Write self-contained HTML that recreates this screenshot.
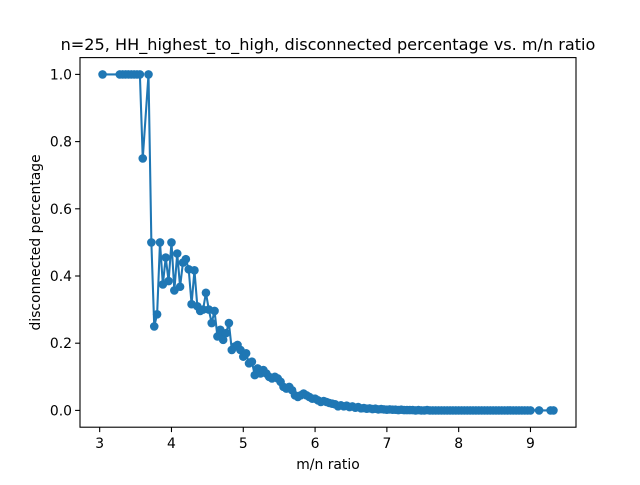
<!DOCTYPE html>
<html><head><meta charset="utf-8"><style>
body{margin:0;background:#fff;}
svg text{font-family:"DejaVu Sans","Liberation Sans",sans-serif;fill:#000;}
</style></head><body>
<svg id="chart" width="640" height="480" xmlns="http://www.w3.org/2000/svg">
<rect width="640" height="480" fill="#fff"/>
<g id="plot"></g>
</svg>
<script>
const xValues=[3.04,3.28,3.32,3.36,3.40,3.44,3.48,3.52,3.56,3.60,3.68,3.72,3.76,3.80,3.84,3.88,3.92,3.96,4.00,4.04,4.08,4.12,4.16,4.20,4.24,4.28,4.32,4.36,4.40,4.44,4.48,4.52,4.56,4.60,4.64,4.68,4.72,4.76,4.80,4.84,4.88,4.92,4.96,5.00,5.04,5.08,5.12,5.16,5.20,5.24,5.28,5.32,5.36,5.40,5.44,5.48,5.52,5.56,5.60,5.64,5.68,5.72,5.76,5.80,5.84,5.88,5.92,5.96,6.00,6.04,6.08,6.12,6.16,6.20,6.24,6.28,6.32,6.36,6.40,6.44,6.48,6.52,6.56,6.60,6.64,6.68,6.72,6.76,6.80,6.84,6.88,6.92,6.96,7.00,7.04,7.08,7.12,7.16,7.20,7.24,7.28,7.32,7.36,7.40,7.44,7.48,7.52,7.56,7.60,7.64,7.68,7.72,7.76,7.80,7.84,7.88,7.92,7.96,8.00,8.04,8.08,8.12,8.16,8.20,8.24,8.28,8.32,8.36,8.40,8.44,8.48,8.52,8.56,8.60,8.64,8.68,8.72,8.76,8.80,8.84,8.88,8.92,8.96,9.00,9.12,9.28,9.32];
const yValues=[1,1,1,1,1,1,1,1,1,0.75,1,0.5,0.25,0.286,0.5,0.375,0.455,0.385,0.5,0.357,0.467,0.368,0.44,0.45,0.42,0.316,0.417,0.31,0.296,0.30,0.35,0.30,0.26,0.296,0.22,0.24,0.21,0.23,0.26,0.18,0.19,0.195,0.18,0.16,0.17,0.14,0.145,0.105,0.125,0.11,0.12,0.11,0.10,0.095,0.10,0.095,0.085,0.07,0.065,0.07,0.06,0.045,0.04,0.045,0.05,0.045,0.04,0.035,0.035,0.03,0.025,0.028,0.025,0.022,0.02,0.018,0.012,0.015,0.012,0.014,0.01,0.012,0.008,0.01,0.006,0.007,0.005,0.006,0.004,0.005,0.003,0.004,0.003,0.002,0.003,0.002,0.002,0.001,0.002,0.001,0.001,0.001,0.001,0,0.001,0,0,0.001,0,0,0,0,0,0,0,0,0,0,0,0,0,0,0,0,0,0,0,0,0,0,0,0,0,0,0,0,0,0,0,0,0,0,0,0,0,0,0,0];
const xTicks=[3,4,5,6,7,8,9];
const yTicks=[0.0,0.2,0.4,0.6,0.8,1.0];
const yTickLabels=["0.0","0.2","0.4","0.6","0.8","1.0"];

const L=80,T=57.6,W=496,H=369.6;
const xmin=2.726,xmax=9.634,ymin=-0.05,ymax=1.05;
const sx=v=>L+(v-xmin)/(xmax-xmin)*W;
const sy=v=>T+H-(v-ymin)/(ymax-ymin)*H;
const NS="http://www.w3.org/2000/svg";
const g=document.getElementById('plot');
function mk(tag,attrs){const e=document.createElementNS(NS,tag);for(const k in attrs)e.setAttribute(k,attrs[k]);g.appendChild(e);return e;}

const pts=xValues.map((x,i)=>sx(x).toFixed(2)+','+sy(yValues[i]).toFixed(2)).join(' ');
const line=mk('polyline',{points:pts,fill:'none',stroke:'#1f77b4','stroke-width':2.08,'stroke-linejoin':'round'});


xValues.forEach((x,i)=>{
  const c=mk('circle',{cx:sx(x),cy:sy(yValues[i]),r:4.3,fill:'#1f77b4'});
  
  
});
const frame=mk('rect',{x:L,y:T,width:W,height:H,fill:'none',stroke:'#000','stroke-width':1.1});


xTicks.forEach(v=>{
  const px=sx(v);
  const t=mk('line',{x1:px,x2:px,y1:T+H,y2:T+H+4.9,stroke:'#000','stroke-width':1.1});
  
  
  const lb=mk('text',{x:px,y:T+H+21,'text-anchor':'middle','font-size':'13.9'});
  lb.textContent=String(v);
  
  
});
yTicks.forEach((v,i)=>{
  const py=sy(v);
  const t=mk('line',{x1:L-4.9,x2:L,y1:py,y2:py,stroke:'#000','stroke-width':1.1});
  
  
  const lb=mk('text',{x:L-8,y:py+5,'text-anchor':'end','font-size':'13.9'});
  lb.textContent=yTickLabels[i];
  
  
});
const xt=mk('text',{x:L+W/2,y:469,'text-anchor':'middle','font-size':'13.9'});
xt.textContent='m/n ratio';


const yt=mk('text',{x:0,y:0,'text-anchor':'middle','font-size':'13.9',transform:'translate(40,'+(T+H/2)+') rotate(-90)'});
yt.textContent='disconnected percentage';


const tt=mk('text',{x:L+W/2,y:50,'text-anchor':'middle','font-size':'16.1'});
tt.textContent='n=25, HH_highest_to_high, disconnected percentage vs. m/n ratio';


</script>
</body></html>
